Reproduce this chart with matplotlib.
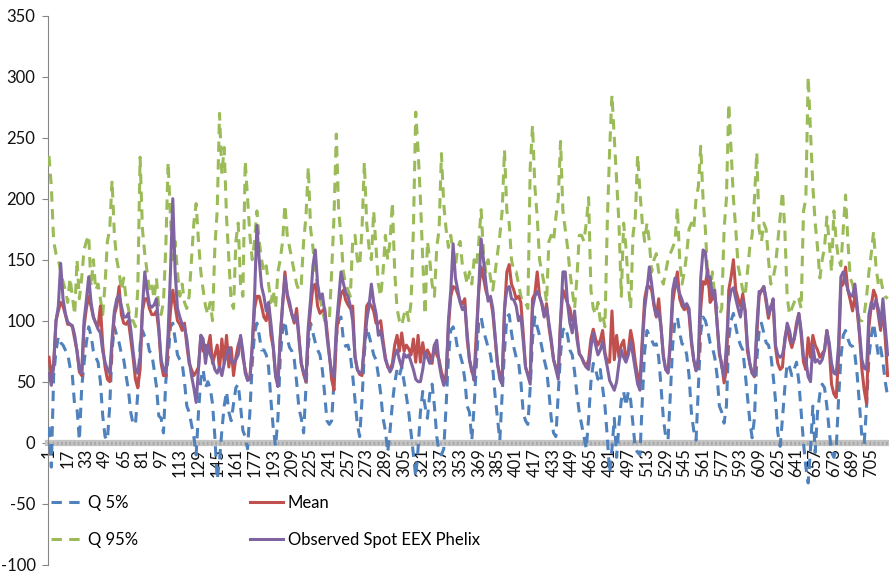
"""
Hourly EEX Phelix spot price: simulated quantiles and mean vs. observed values.
"""

import numpy as np
import matplotlib.pyplot as plt

# one value every second hour, one row per day (30 days, 720 hours)
hours = np.arange(1, 720, 2)
tick_hours = np.arange(1, 706, 16)

q05 = [
    13, -20, 55, 75, 87, 82, 80, 76, 73, 62, 55, 30,
    28, 2, 45, 65, 82, 95, 88, 75, 70, 66, 50, 22,
    5, 2, 30, 76, 95, 88, 82, 73, 68, 55, 43, 25,
    15, 15, 40, 80, 92, 87, 85, 75, 73, 60, 46, 22,
    20, 8, 50, 70, 95, 98, 85, 72, 68, 65, 50, 30,
    25, 15, 5, -10, 25, 52, 60, 45, 50, 45, 32, 5,
    -30, -15, 10, 30, 42, 25, 18, 32, 45, 48, 30, 10,
    5, -5, 25, 65, 90, 98, 88, 76, 76, 72, 62, 35,
    12, -3, 20, 70, 92, 100, 85, 78, 75, 68, 50, 28,
    20, 8, 45, 80, 98, 90, 82, 76, 72, 60, 40, 18,
    15, 18, 50, 87, 100, 103, 85, 79, 80, 72, 55, 35,
    15, 5, 35, 73, 95, 88, 80, 72, 68, 55, 40, 20,
    10, -8, 10, 32, 49, 60, 55, 62, 50, 38, 25, 8,
    -10, -28, -5, 25, 42, 30, 20, 40, 48, 30, 5, -8,
    -10, -5, 30, 70, 92, 95, 88, 76, 72, 65, 52, 30,
    25, 2, 30, 65, 100, 103, 92, 85, 78, 72, 60, 38,
    20, 2, 40, 75, 103, 105, 90, 78, 70, 66, 50, 25,
    18, 15, 45, 85, 103, 95, 88, 78, 68, 60, 42, 20,
    8, 5, 40, 73, 92, 95, 88, 76, 72, 58, 40, 25,
    15, 5, -5, 20, 50, 65, 60, 52, 60, 45, 30, 5,
    -25, -5, 20, -12, 15, 35, 42, 30, 42, 35, 15, -5,
    -8, -10, 35, 75, 92, 88, 84, 80, 81, 70, 46, 20,
    5, 2, 40, 80, 100, 103, 90, 81, 80, 72, 55, 25,
    10, 2, 45, 90, 103, 100, 92, 82, 78, 70, 55, 30,
    25, 16, 30, 85, 100, 106, 95, 86, 80, 76, 58, 38,
    18, 4, 20, 68, 92, 98, 90, 82, 80, 72, 55, 35,
    8, -3, 20, 45, 65, 62, 55, 60, 66, 50, 25, 0,
    -20, -33, -5, 30, -8, 25, 40, 48, 45, 30, 10, -8,
    -12, -5, 35, 70, 88, 92, 85, 80, 79, 72, 55, 30,
    5, 0, 30, 70, 87, 98, 85, 72, 78, 66, 50, 38,
]

q95 = [
    235, 210, 165, 155, 150, 140, 132, 125, 115, 135, 120, 105,
    150, 118, 135, 158, 165, 170, 128, 150, 125, 130, 118, 105,
    130, 165, 175, 215, 170, 150, 140, 125, 135, 118, 110, 100,
    100, 95, 125, 234, 175, 155, 140, 125, 130, 118, 135, 110,
    105, 115, 160, 230, 185, 150, 165, 140, 120, 130, 115, 110,
    120, 150, 180, 196, 165, 140, 125, 112, 105, 115, 100, 160,
    190, 270, 220, 242, 185, 150, 115, 110, 165, 180, 130, 120,
    231, 200, 170, 150, 165, 190, 165, 150, 140, 145, 130, 115,
    125, 110, 140, 150, 165, 195, 170, 160, 150, 140, 130, 125,
    130, 165, 185, 226, 175, 160, 140, 128, 118, 110, 100, 98,
    100, 140, 185, 253, 190, 170, 140, 130, 125, 120, 165, 170,
    150, 145, 175, 230, 180, 160, 150, 190, 160, 130, 120, 140,
    170, 150, 165, 197, 140, 110, 100, 96, 105, 110, 100, 115,
    175, 271, 240, 200, 150, 105, 165, 150, 130, 120, 160, 175,
    237, 195, 175, 160, 170, 155, 145, 160, 165, 145, 140, 130,
    140, 130, 150, 145, 165, 191, 155, 140, 150, 135, 125, 140,
    155, 170, 190, 240, 190, 180, 150, 140, 140, 130, 120, 115,
    115, 110, 225, 260, 210, 185, 150, 140, 130, 115, 165, 170,
    165, 185, 200, 247, 190, 175, 160, 140, 125, 110, 135, 170,
    170, 165, 180, 201, 125, 110, 105, 115, 100, 105, 95, 180,
    240, 285, 250, 215, 180, 120, 180, 160, 130, 110, 170, 185,
    236, 205, 180, 165, 180, 165, 140, 150, 155, 140, 135, 130,
    140, 150, 155, 160, 165, 193, 150, 130, 140, 155, 175, 180,
    175, 200, 210, 243, 200, 175, 135, 120, 140, 120, 110, 105,
    110, 175, 200, 278, 240, 200, 175, 145, 135, 125, 120, 140,
    160, 170, 200, 238, 175, 165, 180, 175, 150, 130, 135, 145,
    165, 185, 206, 175, 120, 105, 110, 115, 120, 118, 110, 190,
    200, 300, 255, 210, 180, 160, 135, 150, 160, 185, 165, 140,
    190, 165, 150, 145, 175, 203, 165, 135, 130, 120, 110, 100,
    100, 105, 120, 140, 155, 173, 145, 130, 135, 125, 120, 118,
]

mean = [
    70, 55, 65, 100, 108, 115, 112, 105, 97, 97, 95, 85,
    75, 58, 55, 95, 110, 120, 112, 103, 98, 95, 112, 80,
    62, 52, 50, 80, 105, 112, 128, 105, 98, 97, 100, 85,
    70, 52, 45, 60, 108, 118, 118, 110, 105, 105, 108, 92,
    65, 55, 55, 80, 108, 125, 112, 100, 97, 92, 98, 80,
    65, 60, 55, 58, 62, 88, 75, 80, 78, 88, 65, 72,
    80, 60, 85, 65, 88, 62, 78, 55, 70, 80, 86, 70,
    60, 52, 52, 78, 110, 120, 120, 112, 103, 100, 112, 88,
    78, 56, 50, 85, 112, 140, 120, 112, 105, 98, 110, 88,
    65, 56, 50, 90, 110, 128, 130, 112, 106, 108, 110, 92,
    73, 52, 43, 85, 110, 122, 125, 117, 113, 110, 112, 70,
    60, 56, 55, 82, 112, 115, 112, 108, 98, 98, 100, 84,
    70, 62, 60, 65, 80, 88, 75, 90, 75, 80, 77, 72,
    85, 66, 88, 66, 82, 70, 76, 72, 65, 80, 72, 68,
    58, 52, 55, 95, 120, 128, 127, 122, 116, 114, 118, 85,
    68, 58, 55, 92, 125, 144, 135, 125, 118, 118, 106, 85,
    64, 56, 52, 108, 140, 146, 130, 125, 118, 120, 115, 90,
    62, 56, 55, 118, 122, 140, 120, 114, 104, 114, 95, 82,
    68, 62, 57, 100, 125, 120, 114, 110, 100, 103, 90, 73,
    70, 66, 62, 68, 85, 93, 85, 80, 84, 92, 74, 66,
    66, 108, 68, 88, 70, 80, 84, 68, 75, 92, 82, 66,
    55, 50, 85, 118, 128, 128, 125, 112, 103, 118, 95, 72,
    60, 58, 80, 115, 128, 140, 118, 112, 109, 113, 105, 82,
    68, 59, 65, 110, 132, 130, 142, 115, 118, 122, 98, 72,
    65, 49, 60, 125, 136, 150, 125, 118, 112, 122, 108, 75,
    65, 57, 54, 88, 120, 125, 128, 115, 102, 112, 115, 78,
    65, 60, 62, 86, 95, 85, 78, 85, 98, 106, 88, 66,
    60, 86, 70, 88, 80, 76, 70, 73, 76, 92, 78, 48,
    40, 37, 70, 128, 130, 144, 125, 117, 108, 120, 108, 88,
    60, 43, 32, 95, 112, 125, 120, 105, 92, 110, 85, 55,
]

observed = [
    57, 47, 62, 100, 112, 147, 118, 106, 99, 97, 96, 88,
    75, 60, 57, 100, 117, 136, 115, 103, 98, 93, 90, 75,
    66, 60, 57, 85, 108, 118, 121, 112, 103, 103, 106, 93,
    75, 60, 57, 70, 110, 140, 125, 113, 111, 113, 118, 95,
    68, 60, 57, 90, 140, 200, 140, 110, 103, 97, 95, 85,
    68, 55, 45, 33, 60, 88, 85, 65, 80, 72, 68, 60,
    57, 62, 55, 65, 72, 78, 68, 65, 68, 72, 88, 75,
    57, 51, 52, 80, 120, 178, 150, 128, 120, 108, 115, 98,
    79, 54, 46, 87, 114, 136, 122, 115, 105, 100, 105, 85,
    65, 58, 51, 95, 118, 145, 158, 130, 118, 122, 108, 87,
    71, 58, 54, 95, 118, 140, 131, 123, 120, 112, 100, 71,
    60, 57, 58, 78, 100, 112, 130, 115, 106, 88, 92, 80,
    68, 63, 58, 62, 72, 76, 68, 62, 73, 70, 72, 66,
    60, 52, 50, 50, 60, 74, 70, 65, 68, 80, 84, 65,
    54, 47, 52, 100, 125, 163, 135, 125, 115, 109, 112, 90,
    68, 60, 51, 82, 128, 167, 150, 131, 116, 120, 110, 87,
    65, 52, 48, 110, 126, 128, 118, 117, 112, 100, 104, 84,
    62, 55, 48, 110, 120, 124, 120, 114, 103, 111, 98, 85,
    68, 60, 52, 100, 140, 140, 114, 98, 90, 108, 85, 73,
    70, 65, 62, 60, 78, 90, 80, 72, 76, 83, 72, 62,
    51, 47, 43, 50, 65, 76, 70, 66, 72, 83, 72, 60,
    48, 43, 80, 110, 125, 144, 130, 114, 104, 108, 95, 70,
    60, 57, 85, 125, 135, 128, 122, 117, 111, 114, 110, 85,
    68, 59, 70, 135, 158, 156, 135, 136, 120, 125, 98, 75,
    62, 54, 80, 114, 125, 127, 118, 110, 103, 117, 108, 80,
    65, 57, 55, 95, 124, 124, 128, 118, 105, 110, 118, 80,
    72, 70, 72, 82, 98, 92, 82, 85, 95, 106, 92, 70,
    68, 54, 50, 80, 66, 68, 65, 68, 76, 92, 82, 65,
    57, 56, 80, 136, 140, 133, 125, 121, 120, 130, 112, 90,
    68, 61, 60, 105, 115, 110, 117, 110, 95, 118, 95, 72,
]

plt.rcParams['font.family'] = ['Lato', 'DejaVu Sans']
plt.rcParams['axes.unicode_minus'] = False

fig = plt.figure(figsize=(8.89, 5.73), dpi=100)
ax = fig.add_axes([48 / 889, 1 - 564.7 / 573, 1 - 48 / 889, 549 / 573])

dash = (0, (3.4, 2.4))
ax.plot(hours, q05, color='#4f81bd', lw=2.2, ls=dash, label='Q 5%', zorder=3)
ax.plot(hours, q95, color='#9bbb59', lw=2.2, ls=dash, label='Q 95%', zorder=3)
ax.plot(hours, mean, color='#c0504d', lw=2.2, label='Mean', zorder=4)
ax.plot(hours, observed, color='#8064a2', lw=2.2,
        label='Observed Spot EEX Phelix', zorder=5)

ax.set_xlim(0.15, 720.2)
ax.set_ylim(-100, 350)
ax.set_yticks(np.arange(-100, 351, 50))
ax.set_xticks(tick_hours)
ax.set_xticklabels([str(h) for h in tick_hours])

for side in ('top', 'right'):
    ax.spines[side].set_visible(False)
ax.spines['left'].set_color('#868686')
ax.spines['left'].set_linewidth(0.8)
ax.spines['bottom'].set_position(('data', 0))
ax.spines['bottom'].set_color('#c4c4c4')
ax.spines['bottom'].set_linewidth(4.5)
ax.spines['bottom'].set_zorder(2)
ax.axhline(0, color='#a8a8a8', lw=2.5, ls=(0, (0.5, 0.7)), zorder=2.1)

ax.tick_params(axis='y', direction='out', length=4, width=0.8,
               color='#868686', pad=5, labelsize=12, labelcolor='#111111')
ax.tick_params(axis='x', length=0, pad=4, labelsize=12, labelcolor='#111111',
               labelrotation=90)

ax.legend(ncol=2, loc='upper left', bbox_to_anchor=(51 / 889, 1 - 495 / 573),
          bbox_transform=fig.transFigure, frameon=False, fontsize=12,
          handlelength=1.95, handletextpad=0.3, columnspacing=6.7,
          labelspacing=1.25, borderpad=0, borderaxespad=0)

fig.savefig('out.png', dpi=100)
